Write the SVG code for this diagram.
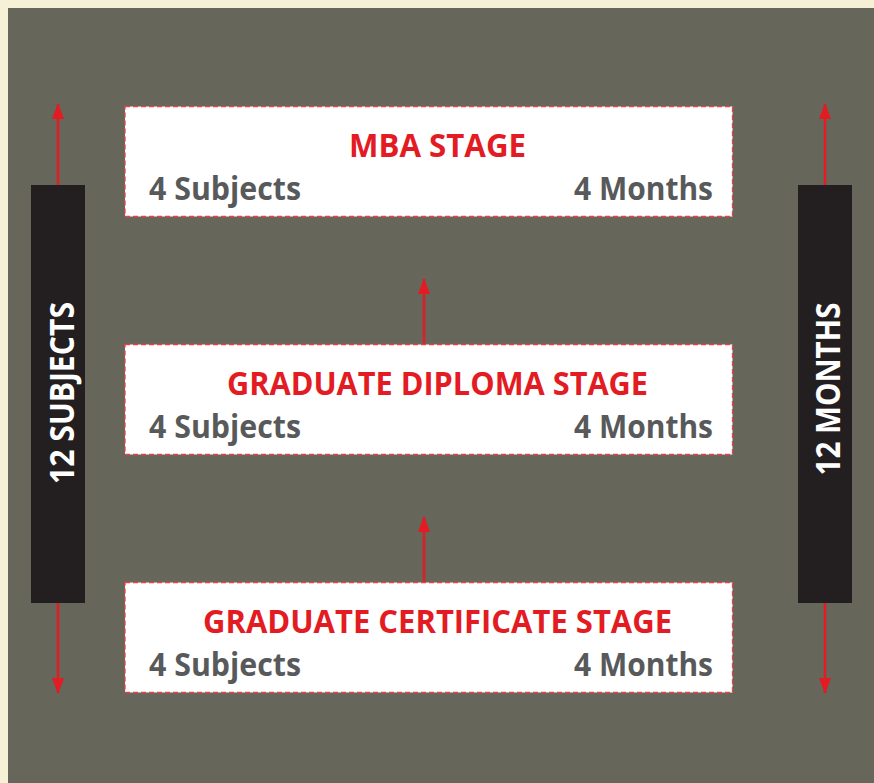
<svg xmlns="http://www.w3.org/2000/svg" width="874" height="783" viewBox="0 0 874 783">
<defs>
<style>
.box{fill:#ffffff;stroke:#e8414a;stroke-width:1.3;stroke-dasharray:5 3}
.title{font-family:"Open Sans","Liberation Sans",sans-serif;font-weight:700;font-size:33px;fill:#e31b23;text-anchor:middle}
.sub{font-family:"Open Sans","Liberation Sans",sans-serif;font-weight:700;font-size:33px;fill:#58595b}
.bar{fill:#231f20}
.vt{font-family:"Open Sans","Liberation Sans",sans-serif;font-weight:700;font-size:34px;fill:#ffffff;text-anchor:middle}
.arr{stroke:#e31b23;stroke-width:2.5;fill:none;marker-end:url(#ah)}
</style>
<marker id="ah" markerUnits="userSpaceOnUse" markerWidth="16" markerHeight="12" viewBox="0 0 16 12" refX="15" refY="6" orient="auto">
<path d="M0,0 L16,6 L0,12 Z" fill="#e31b23"/>
</marker>
</defs>
<rect x="0" y="0" width="874" height="783" fill="#f5f0d6"/>
<rect x="8" y="8" width="866" height="775" fill="#67665b"/>

<g id="connectors">
<line class="arr" x1="58" y1="186" x2="58" y2="104"/>
<line class="arr" x1="58" y1="602" x2="58" y2="693"/>
<line class="arr" x1="825" y1="186" x2="825" y2="104"/>
<line class="arr" x1="825" y1="602" x2="825" y2="693"/>
<line class="arr" x1="424" y1="344" x2="424" y2="279"/>
<line class="arr" x1="424" y1="582" x2="424" y2="517"/>
</g>

<g id="left-bar">
<rect class="bar" x="31" y="185" width="54" height="418"/>
<text class="vt" transform="translate(74,393) rotate(-90)" textLength="182" lengthAdjust="spacingAndGlyphs">12 SUBJECTS</text>
</g>
<g id="right-bar">
<rect class="bar" x="798" y="185" width="54" height="418"/>
<text class="vt" transform="translate(840,389) rotate(-90)" textLength="173" lengthAdjust="spacingAndGlyphs">12 MONTHS</text>
</g>

<g id="mba">
<rect class="box" x="125" y="106.5" width="607.5" height="110"/>
<text class="title" x="437.5" y="157" textLength="177" lengthAdjust="spacingAndGlyphs">MBA STAGE</text>
<text class="sub" x="149" y="200" textLength="152" lengthAdjust="spacingAndGlyphs">4 Subjects</text>
<text class="sub" x="574" y="200" textLength="139" lengthAdjust="spacingAndGlyphs">4 Months</text>
</g>
<g id="diploma">
<rect class="box" x="125" y="344.5" width="607.5" height="110"/>
<text class="title" x="437.5" y="395" textLength="421" lengthAdjust="spacingAndGlyphs">GRADUATE DIPLOMA STAGE</text>
<text class="sub" x="149" y="438" textLength="152" lengthAdjust="spacingAndGlyphs">4 Subjects</text>
<text class="sub" x="574" y="438" textLength="139" lengthAdjust="spacingAndGlyphs">4 Months</text>
</g>
<g id="certificate">
<rect class="box" x="125" y="582.5" width="607.5" height="110"/>
<text class="title" x="437.5" y="633" textLength="469" lengthAdjust="spacingAndGlyphs">GRADUATE CERTIFICATE STAGE</text>
<text class="sub" x="149" y="676" textLength="152" lengthAdjust="spacingAndGlyphs">4 Subjects</text>
<text class="sub" x="574" y="676" textLength="139" lengthAdjust="spacingAndGlyphs">4 Months</text>
</g>
</svg>
